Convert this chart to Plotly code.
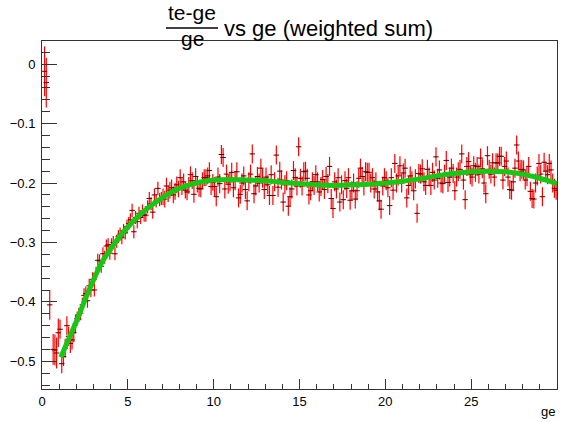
import plotly.graph_objects as go

# ---------------- data ----------------
# sparse low-ge bins
x_low = [0.15, 0.25, 0.45, 0.65, 0.75, 0.85, 0.95]
y_low = [-0.012, -0.031, -0.405, -0.480, -0.481, -0.486, -0.452]
e_low = [0.042, 0.042, 0.025, 0.026, 0.026, 0.026, 0.024]

bin_start = 1.05
bin_width = 0.1
# one row per unit of ge (10 bins of 0.1 each), ge = 1.05 ... 29.95
rows = [
    [-0.446, -0.504, -0.492, -0.478, -0.440, -0.458, -0.470, -0.464, -0.452, -0.437],
    [-0.428, -0.422, -0.419, -0.405, -0.389, -0.386, -0.398, -0.373, -0.380, -0.362],
    [-0.380, -0.352, -0.330, -0.331, -0.340, -0.319, -0.325, -0.306, -0.304, -0.318],
    [-0.304, -0.300, -0.319, -0.298, -0.290, -0.286, -0.292, -0.280, -0.284, -0.273],
    [-0.268, -0.262, -0.246, -0.282, -0.258, -0.265, -0.251, -0.258, -0.247, -0.254],
    [-0.254, -0.240, -0.226, -0.235, -0.249, -0.220, -0.230, -0.209, -0.228, -0.226],
    [-0.223, -0.227, -0.205, -0.218, -0.212, -0.208, -0.220, -0.214, -0.203, -0.210],
    [-0.191, -0.206, -0.198, -0.212, -0.215, -0.204, -0.186, -0.196, -0.219, -0.189],
    [-0.202, -0.209, -0.210, -0.196, -0.191, -0.191, -0.188, -0.179, -0.206, -0.199],
    [-0.206, -0.223, -0.190, -0.201, -0.152, -0.157, -0.210, -0.185, -0.202, -0.198],
    [-0.182, -0.208, -0.196, -0.181, -0.225, -0.219, -0.200, -0.188, -0.211, -0.230],
    [-0.198, -0.185, -0.151, -0.218, -0.205, -0.189, -0.200, -0.175, -0.192, -0.211],
    [-0.190, -0.203, -0.221, -0.186, -0.221, -0.198, -0.153, -0.207, -0.180, -0.195],
    [-0.232, -0.203, -0.196, -0.239, -0.223, -0.210, -0.179, -0.191, -0.205, -0.139],
    [-0.192, -0.205, -0.181, -0.180, -0.192, -0.220, -0.213, -0.198, -0.204, -0.186],
    [-0.198, -0.215, -0.206, -0.194, -0.211, -0.189, -0.201, -0.172, -0.226, -0.243],
    [-0.198, -0.210, -0.191, -0.232, -0.203, -0.228, -0.196, -0.209, -0.191, -0.229],
    [-0.213, -0.200, -0.227, -0.213, -0.192, -0.175, -0.189, -0.205, -0.181, -0.182],
    [-0.182, -0.200, -0.191, -0.210, -0.198, -0.215, -0.230, -0.244, -0.205, -0.191],
    [-0.196, -0.208, -0.238, -0.191, -0.212, -0.167, -0.200, -0.188, -0.171, -0.200],
    [-0.183, -0.175, -0.225, -0.204, -0.188, -0.196, -0.213, -0.193, -0.251, -0.184],
    [-0.185, -0.176, -0.198, -0.204, -0.177, -0.190, -0.204, -0.182, -0.195, -0.156],
    [-0.192, -0.178, -0.200, -0.201, -0.185, -0.162, -0.199, -0.190, -0.175, -0.184],
    [-0.213, -0.190, -0.181, -0.177, -0.151, -0.195, -0.228, -0.172, -0.164, -0.186],
    [-0.190, -0.171, -0.182, -0.172, -0.185, -0.158, -0.176, -0.200, -0.218, -0.154],
    [-0.177, -0.185, -0.166, -0.190, -0.166, -0.166, -0.155, -0.155, -0.195, -0.172],
    [-0.163, -0.190, -0.211, -0.212, -0.198, -0.175, -0.136, -0.163, -0.181, -0.177],
    [-0.178, -0.195, -0.189, -0.172, -0.214, -0.226, -0.227, -0.200, -0.188, -0.167],
    [-0.185, -0.223, -0.165, -0.180, -0.186, -0.167, -0.178, -0.200, -0.209, -0.212],
]
# error (half-length) for each row
row_err = [0.016, 0.012, 0.011, 0.011, 0.011, 0.011, 0.014, 0.014, 0.014,
           0.016, 0.016, 0.016, 0.016, 0.016, 0.016, 0.016, 0.016, 0.016,
           0.016, 0.016, 0.016, 0.016, 0.016, 0.016, 0.016, 0.016, 0.016,
           0.016, 0.016]

# fit curve samples
fit_x = [1.1, 1.5, 2.0, 2.5, 3.0, 3.5, 4.0, 4.5, 5.0, 5.5, 6.0, 6.5, 7.0, 7.5,
         8.0, 8.5, 9.0, 9.5, 10, 11, 12, 13, 14, 15, 16, 17, 18, 19, 20, 21,
         22, 23, 24, 25, 26, 27, 28, 29, 30]
fit_y = [-0.493, -0.466, -0.433, -0.397, -0.363, -0.333, -0.311, -0.291,
         -0.274, -0.259, -0.246, -0.235, -0.225, -0.216, -0.209, -0.204,
         -0.200, -0.197, -0.195, -0.194, -0.195, -0.196, -0.199, -0.201,
         -0.203, -0.204, -0.203, -0.202, -0.200, -0.197, -0.193, -0.188,
         -0.184, -0.181, -0.180, -0.181, -0.185, -0.192, -0.201]

x_ticks = [0, 5, 10, 15, 20, 25, 30]
y_ticks = [0, -0.1, -0.2, -0.3, -0.4, -0.5]

# ---------------- build arrays ----------------
xs = list(x_low)
ys = list(y_low)
es = list(e_low)
for r, row in enumerate(rows):
    for j, v in enumerate(row):
        xs.append(round(bin_start + bin_width * (10 * r + j), 3))
        ys.append(v)
        es.append(row_err[r])

FONT = "Liberation Sans, Arial, Helvetica, sans-serif"

fig = go.Figure()
fig.add_trace(go.Scatter(
    x=xs, y=ys, mode="markers",
    marker=dict(symbol="line-ew", size=4, color="rgb(110,0,0)",
                line=dict(width=1, color="rgb(110,0,0)")),
    error_y=dict(type="data", array=es, color="rgb(255,0,0)", thickness=1.2, width=0),
    error_x=dict(type="constant", value=0.05, color="rgb(255,0,0)", thickness=1, width=0),
    showlegend=False, hoverinfo="skip",
))
fig.add_trace(go.Scatter(
    x=fit_x, y=fit_y, mode="lines",
    line=dict(color="rgb(20,200,20)", width=5, shape="spline", smoothing=1.0),
    showlegend=False, hoverinfo="skip",
))

axis_common = dict(
    showgrid=False, zeroline=False, showline=True, linecolor="#333333",
    linewidth=1, mirror=True, ticks="inside", tickcolor="#333333",
    tickfont=dict(family=FONT, size=13, color="black"),
)
fig.update_xaxes(range=[0, 30], tickvals=x_ticks, ticktext=[str(v) for v in x_ticks],
                 ticklen=10, tickwidth=1,
                 minor=dict(ticks="inside", dtick=1, tick0=0, ticklen=5,
                            tickcolor="#333333", showgrid=False),
                 **axis_common)
fig.update_yaxes(range=[-0.5466, 0.039], tickvals=y_ticks,
                 ticktext=["0", "\u22120.1", "\u22120.2", "\u22120.3", "\u22120.4", "\u22120.5"],
                 ticklen=15, tickwidth=1, ticklabelstandoff=3,
                 minor=dict(ticks="inside", dtick=0.02, tick0=0, ticklen=8,
                            tickcolor="#333333", showgrid=False),
                 **axis_common)

W, H = 564, 422
L, R, T, B = 42, 7, 41, 33
pw, ph = W - L - R, H - T - B


def px(xp):
    return (xp - L) / pw


def py(yp):
    return (H - B - yp) / ph


fig.update_layout(
    width=W, height=H, margin=dict(l=L, r=R, t=T, b=B),
    paper_bgcolor="white", plot_bgcolor="white",
    font=dict(family=FONT, color="black"),
    annotations=[
        dict(text="te-ge", x=px(192), y=py(13), xref="paper", yref="paper",
             showarrow=False, xanchor="center", yanchor="middle",
             font=dict(family=FONT, size=21)),
        dict(text="ge", x=px(192), y=py(39), xref="paper", yref="paper",
             showarrow=False, xanchor="center", yanchor="middle",
             font=dict(family=FONT, size=21)),
        dict(text="vs ge (weighted sum)", x=px(222), y=py(28), xref="paper", yref="paper",
             showarrow=False, xanchor="left", yanchor="middle",
             font=dict(family=FONT, size=22)),
        dict(text="ge", x=px(557), y=py(411), xref="paper", yref="paper",
             showarrow=False, xanchor="right", yanchor="middle",
             font=dict(family=FONT, size=13)),
    ],
    shapes=[
        dict(type="line", xref="paper", yref="paper", x0=px(166), x1=px(218),
             y0=py(28), y1=py(28), line=dict(color="black", width=1.5)),
    ],
)

fig.write_html("out.html")
